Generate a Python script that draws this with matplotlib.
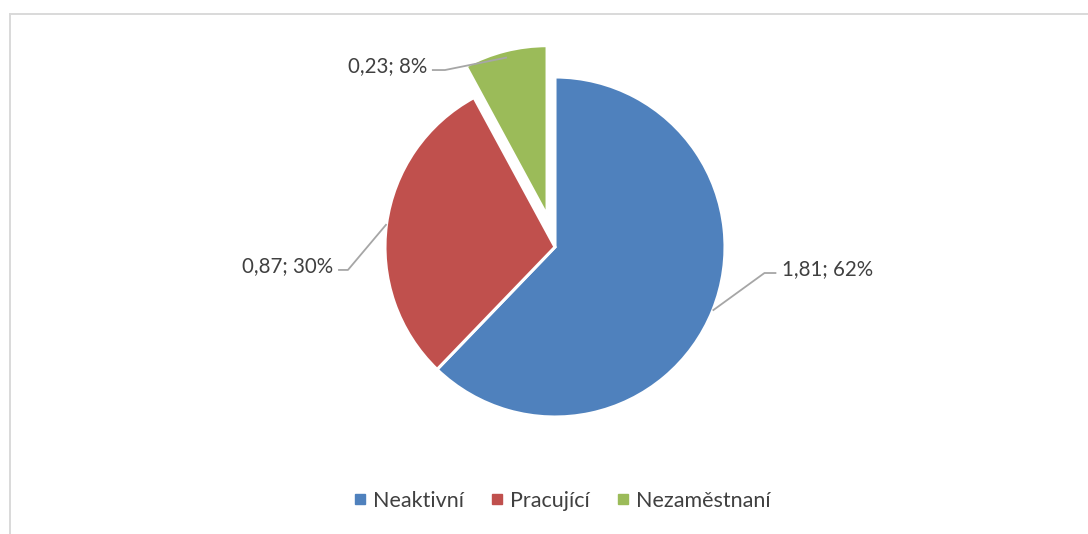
import numpy as np
import matplotlib.pyplot as plt
from matplotlib.lines import Line2D

plt.rcParams['font.family'] = ['Lato', 'DejaVu Sans']

categories = ['Neaktivní', 'Pracující', 'Nezaměstnaní']
values = [1.81, 0.87, 0.23]
colors = ['#4F81BD', '#C0504D', '#9BBB59']
explode = [0, 0, 0.19]

# label layout: elbow point of each leader line and length of its horizontal run
label_elbow = [(1.232, -0.153), (-1.218, -0.135), (-0.647, 1.041)]
label_run = [0.07, -0.058, -0.077]
text_color = '#404040'
line_color = '#a6a6a6'

fig = plt.figure(figsize=(10.88, 5.34), dpi=100)
ax = fig.add_axes([0, 0, 1, 1])

wedges, _ = ax.pie(values, colors=colors, startangle=90, counterclock=False,
                   explode=explode, radius=1,
                   wedgeprops=dict(edgecolor='white', linewidth=2.2))

total = sum(values)
for i, w in enumerate(wedges):
    mid = np.deg2rad((w.theta1 + w.theta2) / 2)
    r = 1.0 + explode[i]
    if i == 2:
        r -= 0.04
    sx, sy = r * np.cos(mid), r * np.sin(mid)
    ex, ey = label_elbow[i]
    tx = ex + label_run[i]
    ax.plot([sx, ex, tx], [sy, ey, ey], color=line_color, lw=1.3,
            solid_capstyle='butt')
    pct = round(values[i] / total * 100)
    txt = f"{values[i]:.2f}; {pct}%".replace('.', ',')
    ha = 'left' if label_run[i] > 0 else 'right'
    off = 0.035 if ha == 'left' else -0.03
    ax.text(tx + off, ey + 0.022, txt, ha=ha, va='center', fontsize=14.8,
            color=text_color)

ax.set_aspect('auto')
ax.set_xlim(-555 / 170, (1088 - 555) / 170)
ax.set_ylim((247 - 534) / 170, 247 / 170)
ax.axis('off')

handles = [Line2D([], [], marker='s', linestyle='none', markersize=6.5,
                  markerfacecolor=c, markeredgecolor=c) for c in colors]
leg = fig.legend(handles, categories, loc='center', ncol=3,
                 bbox_to_anchor=(562 / 1088, 1 - 501 / 534), frameon=False,
                 fontsize=15.5, handlelength=0.6, handletextpad=0.3,
                 columnspacing=1.25)
for t in leg.get_texts():
    t.set_color(text_color)

# chart frame
fig.add_artist(Line2D([9.5 / 1088, 9.5 / 1088], [0, 1 - 13.5 / 534],
                      transform=fig.transFigure, color='#d9d9d9', lw=1.4))
fig.add_artist(Line2D([9.5 / 1088, 1], [1 - 13.5 / 534, 1 - 13.5 / 534],
                      transform=fig.transFigure, color='#d9d9d9', lw=1.4))

fig.savefig('out.png', dpi=100, facecolor='white')
